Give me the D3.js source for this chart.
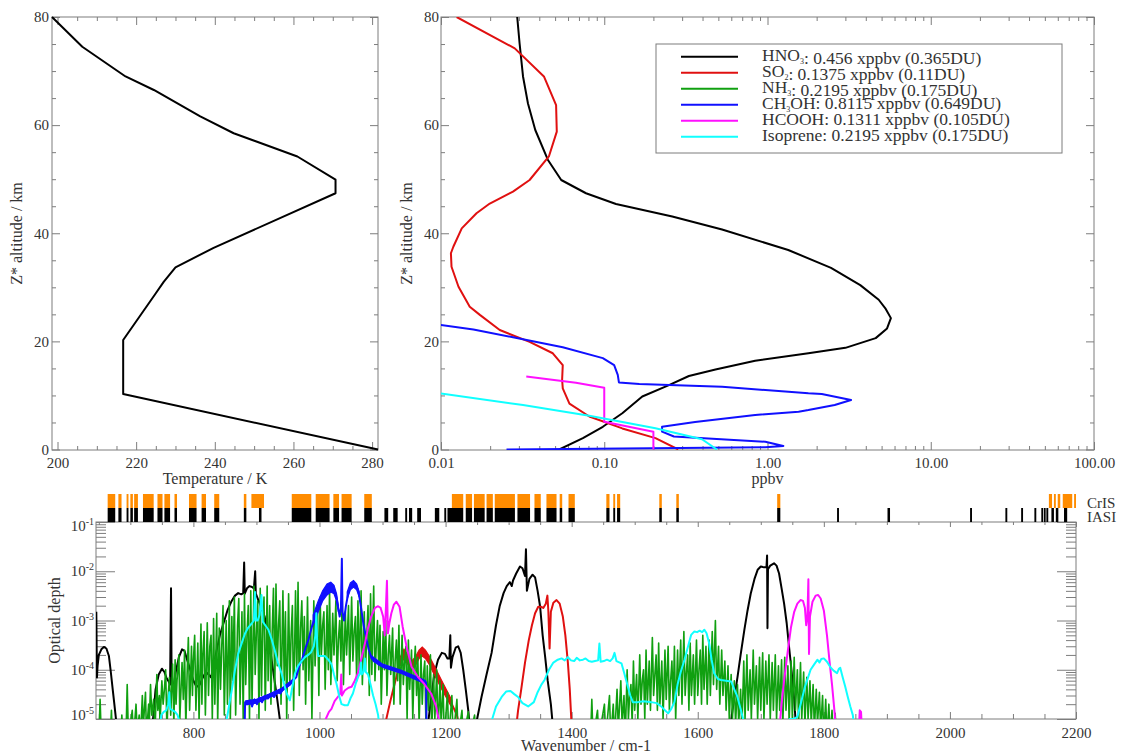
<!DOCTYPE html>
<html>
<head>
<meta charset="utf-8">
<script src="https://cdn.jsdelivr.net/npm/d3@7/dist/d3.min.js"></script>
<style>
  html, body { margin: 0; padding: 0; background: #fff; }
  svg text { font-family: "Liberation Serif", "DejaVu Serif", serif; fill: #333; }
</style>
</head>
<body>
<svg id="fig" width="1129" height="756"></svg>
<script>
// ---------------- Temperature profile: [Z* km, K] ----------------
const temperatureProfile = [
  [0, 281.5], [10.27, 216.7], [20.25, 216.7], [28.9, 225], [31.0, 227], [33.7, 230],
  [37.3, 239.7], [47.4, 270.7], [49.9, 270.7], [54.2, 261], [58.5, 244.8], [61.6, 236.3],
  [66.5, 224.5], [69.0, 217.3], [74.5, 206.3], [80, 198.6]
];

// ---------------- Mixing-ratio profiles: [Z* km, ppbv] ----------------
const hno3Profile = [
  [0, 0.053], [2.1, 0.074], [4.2, 0.098], [6.7, 0.129], [9.8, 0.171], [11.9, 0.249],
  [13.6, 0.33], [14.8, 0.48], [16.4, 0.84], [17.8, 1.78], [18.8, 3.0], [20.6, 4.6],
  [22.4, 5.4], [24.3, 5.7], [26.0, 5.3], [27.7, 4.8], [30.4, 3.7], [33.6, 2.45],
  [36.9, 1.34], [40.7, 0.527], [43.1, 0.261], [45.4, 0.118], [47.4, 0.0773],
  [49.85, 0.0545], [53.6, 0.0451], [59.1, 0.0378], [64.0, 0.0341], [69.0, 0.0318],
  [75.1, 0.0303], [80, 0.0293]
];
const so2Profile = [
  [0, 0.284], [2.1, 0.206], [3.9, 0.129], [6.1, 0.081], [8.5, 0.0612], [11.3, 0.0557],
  [12.9, 0.0552], [15.6, 0.0557], [17.8, 0.0484], [19.9, 0.0349], [22.1, 0.0229],
  [24.9, 0.0173], [26.4, 0.015], [30.1, 0.0128], [33.8, 0.0116], [36.3, 0.0115],
  [37.5, 0.0119], [40.9, 0.0134], [43.7, 0.0165], [45.5, 0.0199], [47.7, 0.0276],
  [49.85, 0.0349], [54.2, 0.0458], [58.8, 0.0512], [63.7, 0.0507], [69.0, 0.0427],
  [74.2, 0.0283], [80, 0.01247]
];
const ch3ohProfile = [
  [23.2, 0.0092], [22.2, 0.0158], [20.75, 0.0276], [18.9, 0.0557], [16.9, 0.098],
  [15.6, 0.115], [13.8, 0.121], [12.4, 0.123], [12.1, 0.164], [11.6, 0.527],
  [10.4, 1.78], [10.27, 2.15], [9.16, 3.25], [8.23, 2.58], [7.3, 1.78], [7.0, 1.55],
  [6.4, 0.84], [5.1, 0.36], [4.2, 0.226], [3.3, 0.226], [2.4, 0.267], [1.44, 0.97],
  [0.65, 1.25], [0.4, 0.97], [0, 0.0252]
];
const hcoohProfile = [
  [13.5, 0.0333], [12.36, 0.0671], [11.43, 0.1], [5.14, 0.1], [3.3, 0.2], [0, 0.2]
];
const isopreneProfile = [
  [10.36, 0.01], [8.23, 0.0318], [6.25, 0.081], [3.92, 0.206], [1.9, 0.397], [0, 0.49]
];

// ---------------- Legend text ----------------
const speciesNames = [["HNO", "3", ""], ["SO", "2", ""], ["NH", "3", ""], ["CH", "3", "OH"], ["HCOOH", "", ""], ["Isoprene", "", ""]];
const columnXppbv = [0.456, 0.1375, 0.2195, 0.8115, 0.1311, 0.2195];
const columnDU = [0.365, 0.11, 0.175, 0.649, 0.105, 0.175];

// ---------------- Optical depth spectra: [wavenumber cm-1, tau] ----------------
const hno3Spectrum = [
  [646, 1.5e-3], [647, 7e-5], [648, 1.2e-4], [650, 2e-4], [654, 2.6e-4], [658, 2.9e-4],
  [662, 2.7e-4], [666, 1.9e-4], [669, 9e-5], [672, 4e-5], [675, 1.8e-5], [678, 8e-6], [681, 3e-6],
  [733, 3e-6], [736, 1e-5], [740, 4e-5], [745, 8e-5], [750, 1.05e-4], [754, 9e-5], [757, 7e-5],
  [760, 6e-5], [763, 5e-5], [764.5, 4.5e-3], [765.5, 5e-5], [768, 4e-5], [772, 9e-5],
  [777, 1.8e-4], [782, 2.6e-4], [786, 2.4e-4], [790, 1.6e-4], [795, 1e-4], [800, 6e-5],
  [805, 4.5e-5], [810, 5e-5], [815, 7e-5], [820, 9e-5], [824, 8e-5], [828, 7e-5], [832, 1.2e-4],
  [837, 2.5e-4], [842, 5e-4], [848, 9e-4], [854, 1.6e-3], [860, 2.4e-3], [866, 3.2e-3],
  [871, 3.6e-3], [876, 3.4e-3], [879, 3.6e-3], [880.5, 1.5e-2], [881.5, 3.5e-3], [885, 4.5e-3],
  [889, 5e-3], [893, 4.8e-3], [896, 4.5e-3], [898, 1e-2], [899, 3.5e-3], [903, 2.6e-3],
  [908, 1.8e-3], [913, 1.2e-3], [918, 5e-4], [923, 2e-4], [928, 7e-5], [933, 2.5e-5],
  [938, 8e-6], [942, 3e-6],
  [1168, 3e-6], [1176, 2e-5], [1182, 8e-5], [1188, 1.6e-4], [1194, 2.2e-4], [1199, 2.1e-4],
  [1203, 1.7e-4], [1206, 1.7e-4], [1207.5, 5e-4], [1208.5, 1.1e-4], [1211, 1.8e-4],
  [1216, 2.8e-4], [1220, 3e-4], [1224, 2.2e-4], [1228, 1e-4], [1232, 4e-5], [1236, 1.5e-5],
  [1240, 4e-6],
  [1246, 4e-6], [1250, 1e-5], [1257, 2.8e-5], [1265, 8e-5], [1273, 2.2e-4], [1280, 8e-4],
  [1286, 2e-3], [1292, 3.6e-3], [1297, 5e-3], [1302, 6e-3], [1305, 5e-3], [1307, 6.5e-3],
  [1312, 9e-3], [1318, 1.25e-2], [1322, 1.15e-2], [1326, 8e-3], [1327.5, 2.8e-2], [1329, 4e-3],
  [1333, 7e-3], [1338, 8.5e-3], [1342, 7.5e-3], [1346, 4e-3], [1350, 1.9e-3], [1354, 5e-4],
  [1358, 1.8e-4], [1362, 6e-5], [1367, 2e-5], [1372, 4e-6],
  [1650, 4e-6], [1655, 1.5e-5], [1663, 7e-5], [1668, 2e-4], [1674, 6.5e-4], [1679, 1.6e-3],
  [1684, 3.5e-3], [1690, 7e-3], [1695, 1.07e-2], [1700, 1.25e-2], [1705, 1.2e-2],
  [1709, 1.2e-2], [1710, 2.1e-2], [1710.6, 7e-4], [1711.4, 1.1e-2], [1715, 1.3e-2],
  [1721, 1.45e-2], [1725, 1.3e-2], [1729, 9e-3], [1733, 4.5e-3], [1737, 2.2e-3], [1741, 9e-4],
  [1745, 2.8e-4], [1749, 9e-5], [1753, 2.5e-5], [1757, 4e-6]
];
const so2Spectrum = [
  [1100, 4e-6], [1106, 1e-5], [1112, 2.2e-5], [1118, 4.5e-5], [1123, 8e-5], [1128, 1.5e-4],
  [1134, 2.1e-4], [1140, 1.6e-4], [1146, 1.2e-4], [1152, 1.5e-4], [1158, 2.1e-4],
  [1163, 2.4e-4], [1168, 2.1e-4], [1174, 1.6e-4], [1180, 1.1e-4], [1187, 7.5e-5],
  [1194, 5e-5], [1202, 3.2e-5], [1210, 2e-5], [1218, 1.2e-5], [1225, 4e-6],
  [1310, 4e-6], [1315, 1.5e-5], [1320, 4e-5], [1326, 1.4e-4], [1332, 4e-4], [1337, 8e-4],
  [1342, 1.4e-3], [1347, 1.9e-3], [1351, 1.9e-3], [1355, 1.8e-3], [1359, 2.2e-3],
  [1361.5, 3.2e-3], [1363, 1.6e-3], [1365, 2.7e-4], [1367, 1.5e-3], [1371, 2.3e-3],
  [1376, 2.6e-3], [1381, 2.2e-3], [1386, 1.2e-3], [1390, 5e-4], [1394, 1.4e-4],
  [1397, 4e-5], [1401, 4e-6]
];
// spread of the densely packed SO2 lines: [wavenumber, low, high]
const so2Spread = [
  [1128, 1.2e-4, 1.8e-4], [1134, 1.7e-4, 2.6e-4], [1140, 1.3e-4, 2e-4], [1146, 1e-4, 1.5e-4],
  [1152, 1.2e-4, 1.8e-4], [1158, 1.7e-4, 2.5e-4], [1163, 1.9e-4, 2.9e-4], [1168, 1.7e-4, 2.5e-4],
  [1174, 1.3e-4, 1.9e-4], [1180, 9e-5, 1.35e-4], [1187, 6e-5, 9e-5], [1194, 4e-5, 6e-5],
  [1202, 2.6e-5, 3.8e-5], [1210, 1.7e-5, 2.4e-5]
];
const nh3Spectrum = [
  [650, 4e-6], [652, 2.5e-5], [654, 4e-6], [668, 4e-6], [670, 1.5e-5], [671.5, 4e-6],
  [685, 4e-6], [686.5, 1.2e-5], [688, 4e-6], [693, 4e-6], [695, 5e-5], [697, 4e-6],
  [703, 1.5e-5], [705, 4e-6], [709, 2e-5], [711, 5e-6], [714, 1.2e-5], [716, 4e-6],
  [719, 3e-5], [720.5, 7e-6], [724, 3.5e-5], [725.5, 5e-6], [729, 2e-5], [730, 8e-6],
  [732, 5e-5], [734, 1.2e-5], [737, 2.5e-5], [739, 5e-6], [742, 8e-5], [743.5, 1.5e-5],
  [746, 3e-5], [747, 8e-6], [750, 6e-5], [752, 2e-5], [754, 4e-5], [756, 1e-4], [758, 6e-6],
  [760, 3e-5], [762, 7e-5], [764, 1.2e-5], [767, 1.3e-4], [769, 8e-6], [771, 1.6e-4],
  [772.5, 2e-5], [774, 6e-5], [777, 2e-4], [778.5, 1e-5], [782, 1.4e-4], [784, 2.5e-5],
  [786, 2.5e-4], [788, 7e-6], [790, 8e-5], [792, 4.5e-4], [794, 1.5e-5], [797, 3e-4],
  [798.5, 3e-5], [800, 1.5e-4], [802, 5e-4], [804, 1.5e-5], [807, 3.5e-4], [809, 9e-6],
  [812, 8.5e-4], [813.5, 2e-5], [815, 2e-4], [817, 6e-4], [819, 1.2e-5], [822, 9e-4],
  [824, 3e-5], [826, 3e-4], [828, 5e-4], [830, 1e-5], [832, 1.1e-3], [834, 2e-5],
  [837, 1.4e-3], [838.5, 8e-6], [841, 7e-4], [843, 4e-5], [845, 3e-4], [847, 2e-3],
  [849, 1.2e-5], [852, 1e-3], [854, 2e-5], [857, 2.5e-3], [858.5, 8e-6], [861, 1.2e-3],
  [862.5, 6e-5], [865, 3e-3], [867, 1.2e-5], [870, 8e-4], [872, 2.8e-3], [874, 2e-5],
  [877, 1.5e-3], [879, 1e-5], [881, 3.5e-3], [883, 5e-5], [885, 5e-4], [887, 2e-3],
  [889, 1e-5], [891, 4e-3], [893, 2e-5], [896, 5e-3], [898, 8e-5], [900, 6e-4], [902, 2.5e-3],
  [904, 1e-5], [906, 4.5e-3], [908, 3e-5], [910, 8e-4], [912, 3e-3], [914, 1.5e-5],
  [917, 5e-3], [918.5, 6e-5], [921, 2e-3], [923, 2e-5], [925, 6e-4], [927, 4.5e-3],
  [929, 3e-5], [931, 5.5e-3], [933, 1.2e-4], [935, 8e-4], [937, 2.5e-3], [939, 2e-5],
  [942, 4e-3], [944, 6e-5], [946, 1.5e-3], [948, 1e-5], [951, 3.5e-3], [953, 5e-5],
  [955, 5e-4], [957, 2e-3], [959, 1.5e-5], [962, 4e-3], [964, 8e-5], [966, 6e-3], [968, 3e-5],
  [970, 7e-4], [972, 2.5e-3], [974, 1e-4], [976, 1.2e-3], [978, 2e-5], [981, 3e-3],
  [983, 6e-5], [986, 1e-3], [988, 1e-5], [991, 2.5e-3], [993, 1.2e-4], [995, 6e-4],
  [997, 1.5e-3], [999, 3e-5], [1001, 3e-3], [1003, 2e-4], [1005, 8e-4], [1007, 1.5e-3],
  [1009, 4e-5], [1012, 2e-3], [1014, 1e-4], [1016, 4e-3], [1018, 5e-5], [1021, 1.4e-3],
  [1023, 2e-4], [1026, 2.5e-3], [1028, 6e-5], [1030, 4e-4], [1032, 1e-3], [1034, 1.5e-4],
  [1036, 3e-3], [1038, 5e-5], [1041, 1.5e-3], [1043, 2e-4], [1046, 2e-3], [1048, 8e-5],
  [1051, 3e-3], [1053, 1.5e-4], [1055, 6e-4], [1057, 1.2e-3], [1059, 6e-5], [1061, 2.5e-3],
  [1063, 1e-4], [1066, 4e-3], [1068, 5e-5], [1071, 1.5e-3], [1073, 1e-4], [1075, 5e-4],
  [1077, 2e-3], [1079, 3e-5], [1081, 3.5e-3], [1083, 8e-5], [1086, 5e-3], [1088, 6e-5],
  [1090, 3e-4], [1092, 1e-3], [1094, 1e-4], [1096, 8e-4], [1098, 2e-5], [1101, 6e-4],
  [1103, 1e-4], [1105, 1e-3], [1107, 3e-5], [1109, 2e-4], [1111, 5e-4], [1113, 8e-5],
  [1116, 7e-4], [1118, 2e-5], [1120, 1.5e-4], [1122, 4e-4], [1124, 6e-5], [1126, 8e-4],
  [1128, 2e-5], [1131, 5e-4], [1133, 5e-5], [1135, 1.5e-4], [1137, 3e-4], [1139, 1e-5],
  [1141, 4e-4], [1143, 4e-5], [1146, 2.5e-4], [1148, 1e-5], [1150, 1e-4], [1152, 3e-4],
  [1154, 3e-5], [1156, 1.8e-4], [1158, 8e-6], [1161, 2e-4], [1163, 2e-5], [1165, 8e-5],
  [1167, 1.5e-4], [1169, 6e-6], [1171, 1.2e-4], [1173, 1.5e-5], [1176, 2e-4], [1178, 5e-6],
  [1181, 8e-5], [1183, 1e-5], [1186, 1e-4], [1188, 5e-6], [1191, 6e-5], [1193, 8e-6],
  [1196, 5e-5], [1198, 4e-6], [1203, 3.5e-5], [1205, 4e-6], [1210, 3e-5], [1212, 4e-6],
  [1218, 2.5e-5], [1220, 4e-6], [1226, 1.5e-5], [1228, 4e-6], [1236, 1.4e-5], [1238, 4e-6],
  [1246, 1.2e-5], [1248, 4e-6],
  [1430, 4e-6], [1432, 2.5e-5], [1434, 4e-6], [1441, 1.5e-5], [1443, 4e-6], [1452, 2e-5],
  [1454, 4e-6], [1460, 3e-5], [1462, 4e-6], [1466, 2e-5], [1468, 4e-6], [1472, 4e-5],
  [1474, 6e-6], [1478, 6e-5], [1480, 8e-6], [1483, 3e-5], [1485, 4e-6], [1488, 1e-4],
  [1490, 1e-5], [1492, 3e-5], [1494, 5e-5], [1496, 8e-6], [1498, 1.5e-4], [1500, 1.5e-5],
  [1503, 8e-5], [1505, 1e-5], [1508, 2e-4], [1510, 2e-5], [1512, 6e-5], [1514, 1e-4],
  [1516, 1e-5], [1518, 2.5e-4], [1520, 2e-5], [1523, 1.5e-4], [1525, 1.5e-5], [1528, 4.5e-4],
  [1530, 3e-5], [1532, 8e-5], [1534, 2e-4], [1536, 1.5e-5], [1538, 3.5e-4], [1540, 2e-5],
  [1543, 1.5e-4], [1545, 1e-5], [1548, 2.5e-4], [1550, 2.5e-5], [1553, 3e-4], [1555, 1.5e-5],
  [1557, 6e-5], [1559, 1.5e-4], [1561, 2e-5], [1563, 3e-4], [1565, 1e-5], [1568, 2.5e-4],
  [1570, 3e-5], [1573, 4e-4], [1575, 2e-5], [1578, 6e-4], [1580, 3e-5], [1582, 9e-5],
  [1584, 2e-4], [1586, 1.5e-5], [1588, 3.5e-4], [1590, 3e-5], [1593, 2e-4], [1595, 2e-5],
  [1598, 4e-4], [1600, 3e-5], [1602, 1e-4], [1604, 2.5e-4], [1606, 2e-5], [1608, 5e-4],
  [1610, 4e-5], [1613, 3e-4], [1615, 2e-5], [1618, 4e-4], [1620, 3e-5], [1623, 6e-4],
  [1625, 5e-5], [1628, 1e-3], [1630, 4e-5], [1633, 3e-4], [1635, 2e-5], [1638, 2.5e-4],
  [1640, 3e-5], [1643, 1.5e-4], [1645, 1.5e-5], [1648, 1.2e-4], [1650, 1e-5], [1653, 8e-5],
  [1655, 1e-5], [1658, 6e-5], [1660, 8e-6], [1663, 5e-5], [1665, 8e-6], [1668, 4e-5],
  [1670, 6e-6], [1673, 1.5e-4], [1675, 1e-5], [1678, 2e-4], [1680, 1.5e-5], [1683, 1e-4],
  [1685, 1e-5], [1688, 2.5e-4], [1690, 2e-5], [1693, 1.2e-4], [1695, 1e-5], [1698, 1.8e-4],
  [1700, 1.5e-5], [1703, 2.2e-4], [1705, 1e-5], [1708, 1.5e-4], [1710, 2e-5], [1713, 2e-4],
  [1715, 1e-5], [1718, 1.4e-4], [1720, 1.5e-5], [1723, 2e-4], [1725, 1e-5], [1728, 1.2e-4],
  [1730, 1.5e-5], [1733, 1.6e-4], [1735, 8e-6], [1738, 1.8e-4], [1740, 1.5e-5],
  [1743, 1.2e-4], [1745, 8e-6], [1748, 1.5e-4], [1750, 1e-5], [1753, 1.8e-4], [1755, 1.5e-5],
  [1758, 1e-4], [1760, 8e-6], [1763, 1.4e-4], [1765, 1e-5], [1768, 9e-5], [1770, 8e-6],
  [1773, 7e-5], [1775, 1e-5], [1778, 6e-5], [1780, 8e-6], [1783, 5e-5], [1785, 6e-6],
  [1788, 4e-5], [1790, 8e-6], [1793, 3.5e-5], [1795, 6e-6], [1798, 3e-5], [1800, 4e-6],
  [1803, 2.5e-5], [1805, 4e-6], [1808, 2e-5], [1810, 4e-6], [1813, 1.5e-5], [1815, 4e-6],
  [1818, 1.3e-5], [1820, 4e-6]
];
const ch3ohSpectrum = [
  [881, 4e-6], [882, 2.2e-5], [886, 2e-5], [890, 2.4e-5], [893, 1.8e-5], [897, 2.5e-5],
  [901, 2e-5], [905, 2.7e-5], [909, 2.2e-5], [913, 2.9e-5], [918, 2.6e-5], [923, 3.2e-5],
  [928, 2.8e-5], [933, 3.6e-5], [938, 3.3e-5], [943, 4.2e-5], [948, 4.5e-5], [953, 5e-5],
  [958, 6e-5], [963, 7e-5], [968, 1.2e-4], [973, 1.7e-4], [978, 2.8e-4], [983, 4.3e-4],
  [988, 7.5e-4], [993, 1.2e-3], [998, 1.9e-3], [1003, 2.7e-3], [1008, 3.5e-3], [1013, 4.2e-3],
  [1018, 4.7e-3], [1022, 4.4e-3], [1026, 3.4e-3], [1029, 2e-3], [1032, 1.2e-3], [1034, 1.8e-3],
  [1035.5, 1.8e-2], [1036.5, 1.5e-3], [1039, 1e-3], [1042, 2e-3], [1046, 3.8e-3],
  [1050, 5.2e-3], [1054, 5.8e-3], [1058, 5.2e-3], [1062, 3.8e-3], [1066, 1.8e-3],
  [1070, 8e-4], [1074, 4.5e-4], [1078, 2.6e-4], [1082, 1.8e-4], [1086, 1.5e-4], [1090, 1.4e-4],
  [1095, 1.25e-4], [1100, 1.2e-4], [1106, 1.1e-4], [1112, 1.05e-4], [1118, 1e-4],
  [1124, 9.5e-5], [1130, 9e-5], [1136, 8.5e-5], [1142, 8e-5], [1148, 7.5e-5], [1154, 7e-5],
  [1160, 6.5e-5], [1166, 6e-5], [1169, 5.5e-5], [1170, 4e-6]
];
// spread of the densely packed CH3OH lines: [wavenumber, low, high]; null splits the bands
const ch3ohSpread = [
  [883, 1.95e-5, 2.35e-5], [900, 2.1e-5, 2.5e-5], [920, 2.7e-5, 3.2e-5], [940, 3.6e-5, 4.2e-5],
  [958, 5.6e-5, 6.4e-5],
  null,
  [990, 8e-4, 1.3e-3], [998, 1.5e-3, 2.5e-3], [1005, 2.5e-3, 4e-3], [1012, 3.3e-3, 5.5e-3],
  [1018, 3.8e-3, 6e-3], [1023, 3.5e-3, 5.2e-3], [1027, 2.5e-3, 3.5e-3], [1030, 1.5e-3, 2e-3],
  null,
  [1044, 2.8e-3, 3.8e-3], [1049, 4.2e-3, 5.8e-3], [1054, 4.8e-3, 6.5e-3],
  [1059, 4.2e-3, 5.5e-3], [1063, 3e-3, 3.8e-3],
  null,
  [1082, 1.7e-4, 1.95e-4], [1100, 1.12e-4, 1.3e-4], [1130, 8.4e-5, 9.7e-5], [1168, 5.2e-5, 6e-5]
];
const hcoohSpectrum = [
  [1007, 4e-6], [1010, 1e-5], [1015, 1.4e-5], [1019, 1.6e-5], [1024, 2.3e-5], [1029, 2.8e-5],
  [1033, 3.3e-5], [1034.5, 8e-5], [1035.5, 3e-5], [1040, 3.8e-5], [1046, 4.3e-5],
  [1051, 4.5e-5], [1056, 6e-5], [1061, 8.5e-5], [1066, 1.6e-4], [1072, 3.4e-4], [1077, 7e-4],
  [1082, 1.2e-3], [1088, 1.8e-3], [1093, 1.95e-3], [1097, 1.8e-3], [1101, 1.2e-3],
  [1103.5, 5e-4], [1105.5, 2e-3], [1107, 6.4e-3], [1108.5, 5.5e-4], [1111, 9e-4],
  [1114, 1.4e-3], [1118, 2.1e-3], [1122, 2.4e-3], [1127, 1.9e-3], [1132, 7.4e-4],
  [1138, 3e-4], [1146, 1.15e-4], [1156, 7.2e-5], [1166, 5.2e-5], [1177, 3.3e-5],
  [1185, 1.8e-5], [1189, 1e-5], [1192, 4e-6],
  [1728, 4e-6], [1733, 2e-5], [1737, 6e-5], [1743, 2.5e-4], [1748, 7.4e-4], [1753, 1.5e-3],
  [1758, 2.2e-3], [1763, 2.6e-3], [1767, 2.5e-3], [1770, 1.8e-3], [1772, 8e-4],
  [1774, 1.2e-3], [1775.5, 6.9e-3], [1776.5, 2.1e-4], [1778, 1.2e-3], [1782, 2.4e-3],
  [1787, 3.2e-3], [1791, 3.3e-3], [1795, 2.8e-3], [1800, 1.6e-3], [1805, 5e-4],
  [1809, 1.5e-4], [1813, 5e-5], [1817, 1.4e-5], [1820, 4e-6],
  [1855, 4e-6], [1857, 1.5e-5], [1859, 1.4e-5], [1861, 4e-6]
];
const isopreneSpectrum = [
  [745, 4e-6], [749, 1.2e-5], [753, 1.4e-5], [757, 1.5e-5], [760, 2e-5], [761.8, 3.5e-5],
  [763, 1.6e-5], [767, 1.5e-5], [771, 1.4e-5], [775, 1.2e-5], [779, 8e-6], [782, 4e-6],
  [849, 4e-6], [853, 1e-5], [857, 2e-5], [861, 3.9e-5], [866, 1e-4], [871, 2.1e-4],
  [877, 3.6e-4], [882, 5.5e-4], [887, 7.2e-4], [892.5, 8.7e-4], [896, 1e-3], [897.8, 3.8e-3],
  [899.5, 1e-3], [902, 1e-3], [905, 1.3e-3], [908, 3.3e-3], [910, 9.5e-4], [914, 8e-4],
  [919, 6.5e-4], [924, 4.2e-4], [929, 2.5e-4], [934, 1.4e-4], [940, 8.3e-5], [944, 5e-5],
  [948, 3.3e-5], [953, 2.4e-5], [957, 4.5e-5], [961, 8.3e-5], [966, 1.2e-4], [971.6, 1.5e-4],
  [977, 1.8e-4], [982, 2e-4], [987, 2.3e-4], [991, 3e-4], [993.5, 5e-4], [995, 1.4e-3],
  [996.5, 3e-4], [998, 1.9e-4], [1003, 1.9e-4], [1008.5, 1.9e-4], [1014, 1.6e-4],
  [1019, 1.3e-4], [1023, 8e-5], [1027, 5.2e-5], [1031, 3e-5], [1035, 2e-5], [1040, 1.9e-5],
  [1045, 1.9e-5], [1049, 2.6e-5], [1053, 3.3e-5], [1058, 5.5e-5], [1062, 7.5e-5],
  [1064, 8.3e-5], [1066, 1.4e-4], [1067, 8e-5], [1070, 9e-5], [1072, 1.7e-4], [1073.5, 9e-5],
  [1077, 8e-5], [1081, 5e-5], [1085, 3e-5], [1089, 2e-5], [1093, 1.2e-5], [1097, 4e-6],
  [1270, 4e-6], [1274, 1e-5], [1280, 1.8e-5], [1289, 2.8e-5], [1296, 3.6e-5], [1303, 3.7e-5],
  [1309, 3.2e-5], [1315, 2.8e-5], [1322, 2.1e-5], [1331, 1.8e-5], [1340, 2.2e-5],
  [1346, 3.5e-5], [1352, 5e-5], [1357, 6.2e-5], [1364, 1e-4], [1371, 1.4e-4], [1378, 1.6e-4],
  [1384, 1.7e-4], [1389, 1.55e-4], [1394, 1.8e-4], [1399, 1.55e-4], [1404, 1.5e-4],
  [1408, 1.75e-4], [1413, 1.55e-4], [1418, 1.6e-4], [1422, 1.7e-4], [1427, 1.5e-4],
  [1432, 1.45e-4], [1437, 1.5e-4], [1442, 1.55e-4], [1444, 3.4e-4], [1446, 1.45e-4],
  [1451, 1.5e-4], [1456, 1.6e-4], [1461, 1.5e-4], [1465, 1.7e-4], [1468, 2.2e-4],
  [1471, 1.5e-4], [1479, 1.35e-4], [1484, 8e-5], [1489, 4.6e-5], [1493, 3e-5], [1497, 2.2e-5],
  [1505, 2.2e-5], [1514, 2.3e-5], [1526, 2.2e-5], [1535, 2.1e-5], [1542, 1.8e-5],
  [1548, 1.5e-5], [1553, 1.3e-5], [1558, 1.6e-5], [1563, 2.2e-5], [1568, 5e-5],
  [1573, 9e-5], [1579, 1.6e-4], [1584, 2.8e-4], [1589.5, 5.1e-4], [1594.7, 6e-4],
  [1599, 5.8e-4], [1603, 6.2e-4], [1607, 5.8e-4], [1610.5, 6.5e-4], [1614, 5.5e-4],
  [1618, 3.5e-4], [1622, 1.6e-4], [1626, 8.5e-5], [1632, 6.5e-5], [1637, 6.2e-5],
  [1645, 6e-5], [1653, 5.8e-5], [1658, 4e-5], [1663, 2.8e-5], [1668, 1.6e-5], [1672, 1e-5],
  [1676, 4e-6],
  [1737, 4e-6], [1741, 9e-6], [1746, 1e-5], [1752, 1e-5], [1758, 1.1e-5], [1764, 2.2e-5],
  [1770, 4.5e-5], [1775, 7e-5], [1779, 1e-4], [1785, 1.3e-4], [1790, 1.6e-4], [1793, 1.4e-4],
  [1796, 1.65e-4], [1800, 1.7e-4], [1805, 1.45e-4], [1811, 1.1e-4], [1816, 9.5e-5],
  [1821, 8.5e-5], [1824, 1.05e-4], [1826, 1.1e-4], [1830, 7e-5], [1834, 4.5e-5],
  [1838, 2.8e-5], [1842, 1.8e-5], [1846, 1.2e-5], [1850, 4e-6]
];

// ---------------- Sounder channel selections: [first, last] wavenumber ----------------
const crisChannels = [
  [664, 676], [681, 686], [694, 697], [700, 704], [706, 712], [720, 737], [743, 751], [754, 763],
  [770, 774], [793, 805], [813, 820], [833, 841], [880, 884], [892, 912], [956, 987], [994, 1016],
  [1022, 1031], [1035, 1051], [1071, 1083], [1210, 1228], [1232, 1242], [1245, 1262],
  [1265, 1275], [1278, 1310], [1314, 1334], [1341, 1351], [1360, 1376], [1381, 1385],
  [1395, 1405], [1455, 1460], [1466, 1469], [1472, 1477], [1539, 1543], [1566, 1570],
  [1726, 1731], [2157, 2162], [2165, 2168], [2171, 2175], [2179, 2194], [2197, 2200]
];
const iasiChannels = [
  [664, 676], [681, 686], [694, 697], [700, 704], [706, 712], [720, 737], [743, 751], [754, 763],
  [770, 774], [793, 805], [813, 820], [833, 841], [880, 884], [904, 908], [956, 987], [994, 1016],
  [1022, 1031], [1035, 1051], [1071, 1083], [1103, 1109], [1117, 1124], [1136, 1139],
  [1142, 1147], [1155, 1161], [1183, 1190], [1198, 1201], [1203, 1228], [1232, 1242],
  [1245, 1262], [1265, 1275], [1278, 1310], [1314, 1334], [1341, 1351], [1360, 1376],
  [1381, 1385], [1395, 1405], [1455, 1460], [1466, 1469], [1472, 1477], [1539, 1543],
  [1566, 1570], [1726, 1731], [1821, 1824], [1901, 1905], [2032, 2035], [2088, 2091],
  [2113, 2116], [2134, 2137], [2145, 2147], [2149, 2151], [2153, 2156], [2161, 2165],
  [2168, 2172], [2181, 2186]
];
const sounders = ["CrIS", "IASI"];

// ---------------- Tick values ----------------
const tempTicks = [200, 220, 240, 260, 280];
const tempMinor = [205, 210, 215, 225, 230, 235, 245, 250, 255, 265, 270, 275];
const altTicks = [0, 20, 40, 60, 80];
const altMinor = [5, 10, 15, 25, 30, 35, 45, 50, 55, 65, 70, 75];
const ppbvTicks = [0.01, 0.1, 1, 10, 100];
const wnTicks = [800, 1000, 1200, 1400, 1600, 1800, 2000, 2200];
const tauDecades = [-5, -4, -3, -2, -1];

// ---------------- Styling ----------------
const AXIS = "#7d7d7d";
const INK = "#333";
const speciesColors = ["#000000", "#e01010", "#10a010", "#1010ff", "#ff10ff", "#10ffff"];
const sounderColors = ["#ff8c00", "#000000"];

const svg = d3.select("#fig");

function decorate(g, size) {
  g.select(".domain").remove();
  g.selectAll(".tick line").attr("stroke", AXIS);
  g.selectAll(".tick text").attr("fill", INK).style("font-size", (size || 15) + "px");
}
function ticks(parent, axis, tx, ty) {
  const g = parent.append("g").attr("transform", `translate(${tx},${ty})`).call(axis);
  decorate(g);
  return g;
}
function frame(parent, x0, x1, y0, y1) {
  parent.append("rect").attr("x", x0).attr("y", y0).attr("width", x1 - x0).attr("height", y1 - y0)
    .attr("fill", "none").attr("stroke", AXIS).attr("stroke-width", 1);
}

// ================= Panel 1: temperature =================
const tX = d3.scaleLinear().domain([198.6, 281.5]).range([52, 378]);
const zY = d3.scaleLinear().domain([0, 80]).range([449.5, 17]);
const [tL, tR] = tX.range();
const pTop = 17, pBot = 450;

const gTemp = svg.append("g");
frame(gTemp, tL, tR, pTop, pBot);
ticks(gTemp, d3.axisBottom(tX).tickValues(tempTicks).tickSize(-8).tickPadding(7).tickFormat(d3.format("d")), 0, pBot);
ticks(gTemp, d3.axisBottom(tX).tickValues(tempMinor).tickSize(-4).tickFormat(""), 0, pBot);
ticks(gTemp, d3.axisTop(tX).tickValues(tempTicks).tickSize(-8).tickFormat(""), 0, pTop);
ticks(gTemp, d3.axisTop(tX).tickValues(tempMinor).tickSize(-4).tickFormat(""), 0, pTop);
ticks(gTemp, d3.axisLeft(zY).tickValues(altTicks).tickSize(-8).tickPadding(3).tickFormat(d3.format("d")), tL, 0);
ticks(gTemp, d3.axisLeft(zY).tickValues(altMinor).tickSize(-4).tickFormat(""), tL, 0);
ticks(gTemp, d3.axisRight(zY).tickValues(altTicks).tickSize(-8).tickFormat(""), tR, 0);
ticks(gTemp, d3.axisRight(zY).tickValues(altMinor).tickSize(-4).tickFormat(""), tR, 0);

gTemp.append("path").datum(temperatureProfile)
  .attr("fill", "none").attr("stroke", "#000").attr("stroke-width", 2).attr("stroke-linejoin", "round")
  .attr("d", d3.line().x(d => tX(d[1])).y(d => zY(d[0])));

gTemp.append("text").attr("x", (tL + tR) / 2).attr("y", 484).attr("text-anchor", "middle")
  .style("font-size", "16px").text("Temperature / K");
gTemp.append("text").attr("transform", `translate(22,${(pTop + pBot) / 2}) rotate(-90)`)
  .attr("text-anchor", "middle").style("font-size", "16px").text("Z* altitude / km");

// ================= Panel 2: mixing ratios =================
const vX = d3.scaleLog().domain([0.01, 100]).range([441, 1094]);
const [vL, vR] = vX.range();
const ppbvMinor = [];
ppbvTicks.slice(0, -1).forEach(d => { for (let k = 2; k <= 9; k++) ppbvMinor.push(d * k); });

const gMix = svg.append("g");
frame(gMix, vL, vR, pTop, pBot);
ticks(gMix, d3.axisBottom(vX).tickValues(ppbvTicks).tickSize(-8).tickPadding(7).tickFormat(d3.format(".2f")), 0, pBot);
ticks(gMix, d3.axisBottom(vX).tickValues(ppbvMinor).tickSize(-4).tickFormat(""), 0, pBot);
ticks(gMix, d3.axisTop(vX).tickValues(ppbvTicks).tickSize(-8).tickFormat(""), 0, pTop);
ticks(gMix, d3.axisTop(vX).tickValues(ppbvMinor).tickSize(-4).tickFormat(""), 0, pTop);
ticks(gMix, d3.axisLeft(zY).tickValues(altTicks).tickSize(-8).tickPadding(2).tickFormat(d3.format("d")), vL, 0);
ticks(gMix, d3.axisLeft(zY).tickValues(altMinor).tickSize(-4).tickFormat(""), vL, 0);
ticks(gMix, d3.axisRight(zY).tickValues(altTicks).tickSize(-8).tickFormat(""), vR, 0);
ticks(gMix, d3.axisRight(zY).tickValues(altMinor).tickSize(-4).tickFormat(""), vR, 0);

svg.append("clipPath").attr("id", "mixClip").append("rect")
  .attr("x", vL).attr("y", pTop).attr("width", vR - vL).attr("height", pBot - pTop);
const mixLine = d3.line().x(d => vX(d[1])).y(d => zY(d[0]));
const mixProfiles = [hno3Profile, so2Profile, null, ch3ohProfile, hcoohProfile, isopreneProfile];
const gMixLines = gMix.append("g").attr("clip-path", "url(#mixClip)");
mixProfiles.forEach((p, i) => {
  if (!p) return;
  gMixLines.append("path").datum(p).attr("fill", "none").attr("stroke", speciesColors[i])
    .attr("stroke-width", 2).attr("stroke-linejoin", "round").attr("d", mixLine);
});

gMix.append("text").attr("x", (vL + vR) / 2).attr("y", 484).attr("text-anchor", "middle")
  .style("font-size", "16px").text("ppbv");
gMix.append("text").attr("transform", `translate(412,${(pTop + pBot) / 2}) rotate(-90)`)
  .attr("text-anchor", "middle").style("font-size", "16px").text("Z* altitude / km");

// legend
const legendRow = d3.scalePoint().domain(d3.range(speciesNames.length)).range([56.7, 136.7]);
const gLeg = gMix.append("g");
gLeg.append("rect").attr("x", 656).attr("y", 44).attr("width", 406).attr("height", 109)
  .attr("fill", "#fff").attr("stroke", AXIS);
speciesNames.forEach((nm, i) => {
  const y = legendRow(i);
  gLeg.append("line").attr("x1", 681).attr("x2", 738).attr("y1", y).attr("y2", y)
    .attr("stroke", speciesColors[i]).attr("stroke-width", 2);
  const t = gLeg.append("text").attr("x", 762).attr("y", y + 4.5).style("font-size", "17.5px");
  t.append("tspan").text(nm[0]);
  if (nm[1]) {
    t.append("tspan").attr("dy", 3).style("font-size", "8px").text(nm[1]);
    t.append("tspan").attr("dy", -3).text(nm[2]);
  }
  t.append("tspan").text(`: ${columnXppbv[i]} xppbv (${columnDU[i]}DU)`);
});

// ================= Panel 3: optical depth spectrum =================
const wX = d3.scaleLinear().domain([645.5, 2200]).range([96, 1076]);
const tauY = d3.scaleLog().domain([1e-5, 1e-1]).range([719, 522]);
const [sL, sR] = wX.range();
const [sB, sT] = tauY.range();
const wnMinor = d3.range(650, 2201, 50).filter(d => !wnTicks.includes(d));
const tauMinor = [];
tauDecades.slice(0, -1).forEach(e => { for (let k = 2; k <= 9; k++) tauMinor.push(k * Math.pow(10, e)); });
const tauMajor = tauDecades.map(e => Math.pow(10, e));

const gSpec = svg.append("g");
frame(gSpec, sL, sR, sT, sB);
ticks(gSpec, d3.axisBottom(wX).tickValues(wnTicks).tickSize(-7).tickPadding(8).tickFormat(d3.format("d")), 0, sB);
ticks(gSpec, d3.axisBottom(wX).tickValues(wnMinor).tickSize(-5).tickFormat(""), 0, sB);
ticks(gSpec, d3.axisTop(wX).tickValues(wnTicks).tickSize(-5).tickFormat(""), 0, sT);
ticks(gSpec, d3.axisTop(wX).tickValues(wnMinor).tickSize(-3).tickFormat(""), 0, sT);
ticks(gSpec, d3.axisLeft(tauY).tickValues(tauMajor).tickSize(-19).tickFormat(""), sL, 0);
ticks(gSpec, d3.axisLeft(tauY).tickValues(tauMinor).tickSize(-10).tickFormat(""), sL, 0);
ticks(gSpec, d3.axisRight(tauY).tickValues(tauMajor).tickSize(-19).tickFormat(""), sR, 0);
ticks(gSpec, d3.axisRight(tauY).tickValues(tauMinor).tickSize(-10).tickFormat(""), sR, 0);

// power-of-ten labels
tauDecades.forEach(e => {
  const nudge = e === -1 ? 4 : (e === -5 ? -4 : 0);
  const t = gSpec.append("text").attr("x", 94).attr("y", tauY(Math.pow(10, e)) + 5 + nudge)
    .attr("text-anchor", "end").style("font-size", "15px");
  t.append("tspan").text("10");
  t.append("tspan").attr("dy", -6).style("font-size", "10px").text(String(e));
});

svg.append("clipPath").attr("id", "specClip").append("rect")
  .attr("x", sL).attr("y", sT).attr("width", sR - sL).attr("height", sB - sT);
const gSpecLines = gSpec.append("g").attr("clip-path", "url(#specClip)");
const specLine = d3.line().x(d => wX(d[0])).y(d => tauY(d[1]));
const spreadArea = d3.area().defined(d => d !== null)
  .x(d => wX(d[0])).y0(d => tauY(d[1])).y1(d => tauY(d[2]));

const spectra = [hno3Spectrum, so2Spectrum, nh3Spectrum, ch3ohSpectrum, hcoohSpectrum, isopreneSpectrum];
const spreads = [null, so2Spread, null, ch3ohSpread, null, null];
spectra.forEach((s, i) => {
  gSpecLines.append("path").datum(s).attr("fill", "none").attr("stroke", speciesColors[i])
    .attr("stroke-width", i === 2 ? 1.6 : 2).attr("stroke-linejoin", "round").attr("d", specLine);
  if (spreads[i]) {
    gSpecLines.append("path").datum(spreads[i]).attr("fill", speciesColors[i])
      .attr("stroke", speciesColors[i]).attr("stroke-width", 1.2).attr("d", spreadArea);
  }
});

gSpec.append("text").attr("x", (sL + sR) / 2).attr("y", 751).attr("text-anchor", "middle")
  .style("font-size", "16px").text("Wavenumber / cm-1");
gSpec.append("text").attr("transform", `translate(60,${(sT + sB) / 2}) rotate(-90)`)
  .attr("text-anchor", "middle").style("font-size", "16px").text("Optical depth");

// channel strip above the spectrum
const stripY = d3.scaleBand().domain(sounders).range([494, sT]);
[crisChannels, iasiChannels].forEach((chs, i) => {
  gSpec.append("g").selectAll("rect").data(chs).join("rect")
    .attr("x", d => wX(d[0]))
    .attr("width", d => Math.max(1.8, wX(d[1]) - wX(d[0])))
    .attr("y", stripY(sounders[i]))
    .attr("height", stripY.bandwidth())
    .attr("fill", sounderColors[i]);
  gSpec.append("text").attr("x", 1087).attr("y", stripY(sounders[i]) + stripY.bandwidth() - 0.5)
    .style("font-size", "15px").attr("fill", "#222").text(sounders[i]);
});
</script>
</body>
</html>
